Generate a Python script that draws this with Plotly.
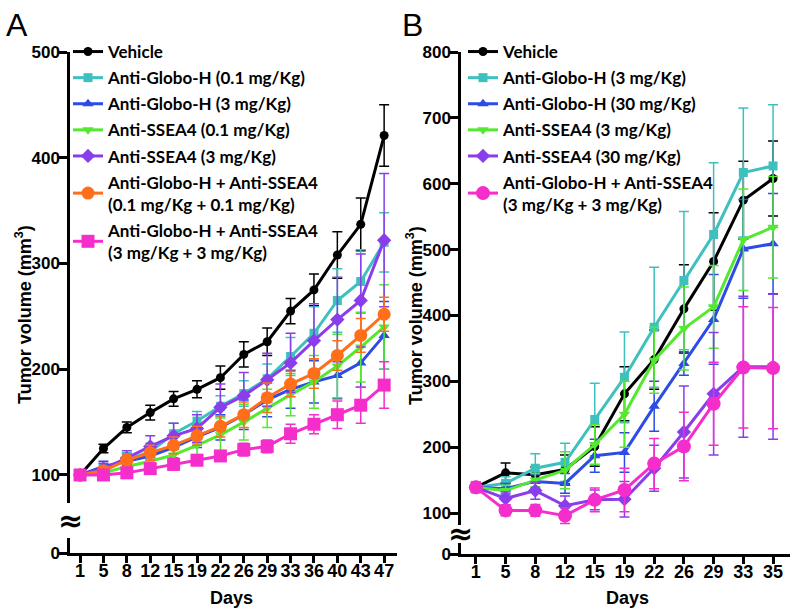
import plotly.graph_objects as go

W, H = 793, 611

# ---------------- data ----------------
days_a = ["1", "5", "8", "12", "15", "19", "22", "26", "29", "33", "36", "40", "43", "47"]
vehicle_a = [100, 125, 145, 159, 172, 181, 192, 214, 226, 255, 275, 308, 337, 421]
vehicle_a_err = [4, 4, 5, 7, 7, 8, 11, 12, 13, 12, 15, 22, 25, 29]
globo01_a = [100, 105, 114, 122, 139, 151, 165, 177, 191, 212, 234, 265, 283, 320]
globo01_a_err = [3, 5, 7, 8, 10, 9, 10, 12, 14, 18, 25, 30, 30, 28]
globo3_a = [100, 108, 113, 118, 126, 136, 145, 157, 171, 181, 188, 194, 206, 232]
globo3_a_err = [3, 5, 7, 8, 10, 10, 12, 14, 16, 18, 20, 22, 23, 32]
ssea01_a = [100, 102, 108, 113, 119, 128, 138, 150, 163, 176, 188, 203, 221, 240]
ssea01_a_err = [3, 4, 5, 7, 10, 14, 16, 17, 18, 20, 25, 30, 33, 40]
ssea3_a = [100, 106, 116, 127, 137, 144, 164, 175, 190, 206, 227, 247, 265, 322]
ssea3_a_err = [3, 5, 7, 10, 12, 13, 22, 22, 25, 28, 35, 40, 44, 63]
combo01_a = [100, 104, 114, 121, 128, 137, 146, 157, 173, 186, 196, 213, 232, 252]
combo01_a_err = [3, 4, 6, 7, 8, 9, 10, 12, 14, 12, 14, 14, 16, 16]
combo3_a = [100, 100, 102, 106, 110, 114, 118, 124, 127, 139, 148, 157, 166, 185]
combo3_a_err = [5, 5, 5, 5, 5, 5, 5, 6, 6, 9, 9, 13, 17, 22]

days_b = ["1", "5", "8", "12", "15", "19", "22", "26", "29", "33", "35"]
vehicle_b = [139, 161, 158, 166, 201, 281, 333, 410, 482, 575, 608]
vehicle_b_err = [5, 15, 12, 22, 30, 41, 45, 67, 74, 59, 57]
globo3_b = [139, 145, 168, 177, 242, 306, 382, 453, 523, 617, 627]
globo3_b_err = [5, 10, 22, 29, 55, 69, 91, 105, 109, 98, 93]
globo30_b = [139, 137, 148, 145, 187, 192, 262, 327, 394, 501, 509]
globo30_b_err = [5, 8, 10, 15, 25, 30, 38, 18, 68, 75, 76]
ssea3_b = [139, 134, 150, 165, 204, 250, 332, 380, 413, 515, 534]
ssea3_b_err = [5, 8, 10, 28, 30, 50, 50, 63, 63, 77, 77]
ssea30_b = [139, 122, 134, 111, 120, 121, 168, 223, 281, 322, 322]
ssea30_b_err = [8, 10, 13, 15, 15, 27, 35, 70, 93, 107, 110]
combo_b = [139, 104, 104, 96, 120, 135, 175, 201, 266, 321, 320]
combo_b_err = [8, 8, 9, 12, 18, 33, 38, 52, 63, 92, 92]

yticks_a = [100, 200, 300, 400, 500]
yticks_b = [100, 200, 300, 400, 500, 600, 700, 800]

names_a = ["Vehicle", "Anti-Globo-H (0.1 mg/Kg)", "Anti-Globo-H (3 mg/Kg)",
           "Anti-SSEA4 (0.1 mg/Kg)", "Anti-SSEA4 (3 mg/Kg)",
           "Anti-Globo-H + Anti-SSEA4<br>(0.1 mg/Kg + 0.1 mg/Kg)",
           "Anti-Globo-H + Anti-SSEA4<br>(3 mg/Kg + 3 mg/Kg)"]
names_b = ["Vehicle", "Anti-Globo-H (3 mg/Kg)", "Anti-Globo-H (30 mg/Kg)",
           "Anti-SSEA4 (3 mg/Kg)", "Anti-SSEA4 (30 mg/Kg)",
           "Anti-Globo-H + Anti-SSEA4<br>(3 mg/Kg + 3 mg/Kg)"]

# ---------------- style ----------------
BLACK, CYAN, BLUE, GREEN = "#000000", "#3EC1BE", "#2D4BE6", "#55E830"
PURPLE, ORANGE, PINK = "#8A3DEB", "#FF6F1A", "#F52DCB"

series_a = [
    (vehicle_a, vehicle_a_err, BLACK, "circle", 9),
    (globo01_a, globo01_a_err, CYAN, "square", 9),
    (globo3_a, globo3_a_err, BLUE, "triangle-up", 10),
    (ssea01_a, ssea01_a_err, GREEN, "triangle-down", 10),
    (ssea3_a, ssea3_a_err, PURPLE, "diamond", 11),
    (combo01_a, combo01_a_err, ORANGE, "circle", 13),
    (combo3_a, combo3_a_err, PINK, "square", 13),
]
series_b = [
    (vehicle_b, vehicle_b_err, BLACK, "circle", 9),
    (globo3_b, globo3_b_err, CYAN, "square", 9),
    (globo30_b, globo30_b_err, BLUE, "triangle-up", 10),
    (ssea3_b, ssea3_b_err, GREEN, "triangle-down", 10),
    (ssea30_b, ssea30_b_err, PURPLE, "diamond", 11),
    (combo_b, combo_b_err, PINK, "circle", 14),
]

def px(x):
    return x / W

def py(y):
    return 1 - y / H

def bold(v):
    return "<b>%s</b>" % v

fig = go.Figure()

for i, ((vals, err, col, sym, size), name) in enumerate(zip(series_a, names_a)):
    fig.add_trace(go.Scatter(
        x=days_a, y=vals, name=name, mode="lines+markers",
        xaxis="x", yaxis="y", legend="legend", legendgroup="a%d" % i,
        line=dict(color=col, width=3),
        marker=dict(color=col, symbol=sym, size=size),
        error_y=dict(type="data", array=err, color=col, thickness=1.5, width=5),
    ))

for i, ((vals, err, col, sym, size), name) in enumerate(zip(series_b, names_b)):
    fig.add_trace(go.Scatter(
        x=days_b, y=vals, name=name, mode="lines+markers",
        xaxis="x2", yaxis="y3", legend="legend2", legendgroup="b%d" % i,
        line=dict(color=col, width=3),
        marker=dict(color=col, symbol=sym, size=size),
        error_y=dict(type="data", array=err, color=col, thickness=1.5, width=5),
    ))

# dummy traces for the lower (broken) axis pieces
fig.add_trace(go.Scatter(x=[days_a[0]], y=[None], xaxis="x", yaxis="y2", showlegend=False, hoverinfo="skip"))
fig.add_trace(go.Scatter(x=[days_b[0]], y=[None], xaxis="x2", yaxis="y4", showlegend=False, hoverinfo="skip"))

TICKFONT = dict(family="Liberation Sans, Arial, sans-serif", size=18, color="black")
YTICKFONT = dict(family="Liberation Sans, Arial, sans-serif", size=17, color="black")
axis_common = dict(showline=True, linewidth=2.5, linecolor="black", ticks="outside",
                   tickwidth=2.5, tickcolor="black", showgrid=False, zeroline=False,
                   fixedrange=True, automargin=False)
xaxis_common = dict(ticklen=7, tickfont=TICKFONT, ticklabelstandoff=-7, **axis_common)
yaxis_common = dict(ticklen=8, tickfont=YTICKFONT, ticklabelstandoff=-4, **axis_common)
LEGFONT = dict(family="Lato, Calibri, sans-serif", size=17, color="black", weight="bold")

fig.update_layout(
    template="none", autosize=False,
    width=W, height=H, margin=dict(l=0, r=0, t=0, b=0, pad=0),
    paper_bgcolor="white", plot_bgcolor="white",
    xaxis=dict(domain=[px(70), px(397)], anchor="y2", type="category",
               range=[-0.43, 13.55],
               tickvals=days_a, ticktext=[bold(d) for d in days_a], **xaxis_common),
    yaxis=dict(domain=[py(503), py(52)], anchor="x", range=[73.5, 500],
               tickvals=yticks_a, ticktext=[bold(v) for v in yticks_a], **yaxis_common),
    yaxis2=dict(domain=[py(553), py(538)], anchor="x", range=[0, 14.2],
                tickvals=[0], ticktext=[bold(0)], **yaxis_common),
    xaxis2=dict(domain=[px(461), px(790)], anchor="y4", type="category",
                range=[-0.5, 10.57],
                tickvals=days_b, ticktext=[bold(d) for d in days_b], **xaxis_common),
    yaxis3=dict(domain=[py(525), py(52)], anchor="x2", range=[81.8, 800],
                tickvals=yticks_b, ticktext=[bold(v) for v in yticks_b], **yaxis_common),
    yaxis4=dict(domain=[py(554), py(543)], anchor="x2", range=[0, 16.7],
                tickvals=[0], ticktext=[bold(0)], **yaxis_common),
    legend=dict(x=px(68), y=py(34), xanchor="left", yanchor="top",
                bgcolor="rgba(0,0,0,0)", borderwidth=0, tracegroupgap=1, itemwidth=30, font=LEGFONT),
    legend2=dict(x=px(463), y=py(34), xanchor="left", yanchor="top",
                 bgcolor="rgba(0,0,0,0)", borderwidth=0, tracegroupgap=1, itemwidth=30, font=LEGFONT),
    showlegend=True,
)

ann_font = dict(family="Liberation Sans, Arial, sans-serif", size=18, color="black", weight="bold")
annotations = [
    dict(text="A", x=px(17), y=py(25), font=dict(family="Liberation Sans, Arial, sans-serif", size=32, color="black")),
    dict(text="B", x=px(412), y=py(25), font=dict(family="Liberation Sans, Arial, sans-serif", size=32, color="black")),
    dict(text="Tumor volume (mm<sup>3</sup>)", x=px(23), y=py(315), textangle=-90, font=ann_font),
    dict(text="Tumor volume (mm<sup>3</sup>)", x=px(414), y=py(315), textangle=-90, font=ann_font),
    dict(text="Days", x=px(232), y=py(598), font=ann_font),
    dict(text="Days", x=px(627), y=py(598), font=ann_font),
    dict(text="≈", x=px(70), y=py(520), font=dict(family="DejaVu Sans, sans-serif", size=30, color="black", weight="bold")),
    dict(text="≈", x=px(461), y=py(533), font=dict(family="DejaVu Sans, sans-serif", size=30, color="black", weight="bold")),
]
for a in annotations:
    a.update(xref="paper", yref="paper", showarrow=False, xanchor="center", yanchor="middle")
fig.update_layout(annotations=annotations)

fig.write_html("out.html", config={"displayModeBar": False},
               post_script="document.body.style.margin='0px';document.body.style.overflow='hidden';")
